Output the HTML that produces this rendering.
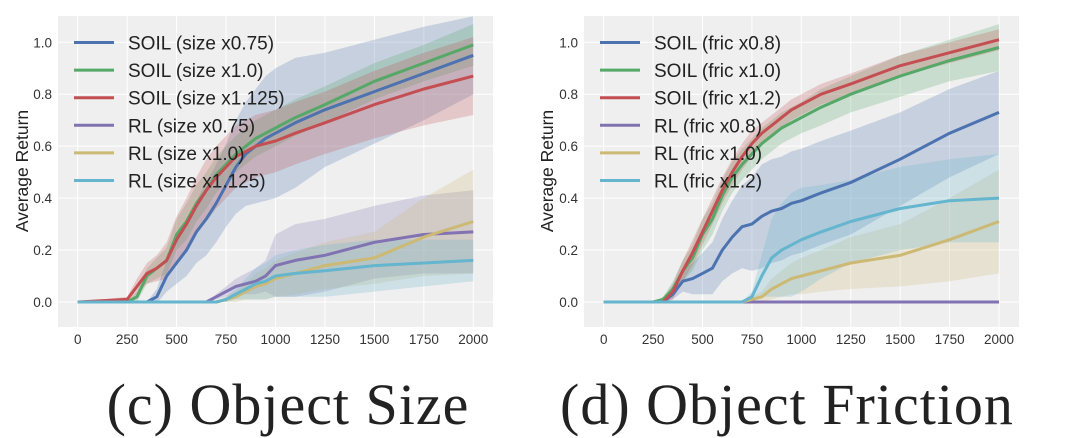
<!DOCTYPE html>
<html><head><meta charset="utf-8"><style>
body{margin:0;background:#fff;}
svg{display:block;font-family:"Liberation Sans",sans-serif;}
</style></head><body>
<svg id="fig" width="1066" height="438" viewBox="0 0 1066 438" xmlns="http://www.w3.org/2000/svg">
<text x="288" y="424" font-family="Liberation Serif,serif" font-size="58" text-anchor="middle" fill="#222" letter-spacing="1">(c) Object Size</text>
<text x="787" y="424" font-family="Liberation Serif,serif" font-size="58" text-anchor="middle" fill="#222" letter-spacing="1">(d) Object Friction</text>
</svg>
<script>
const xs=[0,250,300,350,400,450,500,550,600,650,700,750,800,850,900,950,1000,1100,1250,1500,1750,2000];
const xTicks=[0,250,500,750,1000,1250,1500,1750,2000];
const yTicks=[0.0,0.2,0.4,0.6,0.8,1.0];
const colors=["#4c72b0","#55a868","#c44e52","#8172b2","#ccb974","#64b5cd"];
const sizeLabels=["SOIL (size x0.75)","SOIL (size x1.0)","SOIL (size x1.125)","RL (size x0.75)","RL (size x1.0)","RL (size x1.125)"];
const fricLabels=["SOIL (fric x0.8)","SOIL (fric x1.0)","SOIL (fric x1.2)","RL (fric x0.8)","RL (fric x1.0)","RL (fric x1.2)"];
const sizeMeans=[
[0,0,0,0,0.02,0.1,0.15,0.2,0.27,0.32,0.38,0.45,0.52,0.57,0.6,0.63,0.65,0.69,0.74,0.81,0.88,0.95],
[0,0,0.02,0.1,0.13,0.16,0.26,0.31,0.38,0.43,0.49,0.53,0.57,0.6,0.63,0.65,0.67,0.71,0.76,0.85,0.92,0.99],
[0,0.01,0.06,0.11,0.13,0.16,0.24,0.3,0.37,0.43,0.48,0.52,0.56,0.58,0.6,0.61,0.62,0.65,0.69,0.76,0.82,0.87],
[0,0,0,0,0,0,0,0,0,0,0.02,0.04,0.06,0.07,0.08,0.1,0.14,0.16,0.18,0.23,0.26,0.27],
[0,0,0,0,0,0,0,0,0,0,0,0.01,0.02,0.04,0.06,0.07,0.09,0.11,0.14,0.17,0.25,0.31],
[0,0,0,0,0,0,0,0,0,0,0,0.01,0.03,0.05,0.07,0.08,0.1,0.11,0.12,0.14,0.15,0.16]];
const sizeSpread=[
[0,0,0,0,0.03,0.06,0.08,0.1,0.12,0.14,0.15,0.16,0.18,0.2,0.22,0.24,0.25,0.25,0.22,0.2,0.18,0.15],
[0,0,0.02,0.03,0.04,0.05,0.06,0.07,0.07,0.07,0.07,0.07,0.07,0.07,0.07,0.07,0.07,0.07,0.07,0.07,0.07,0.08],
[0,0.01,0.03,0.04,0.05,0.07,0.09,0.1,0.11,0.12,0.12,0.12,0.12,0.12,0.12,0.12,0.12,0.12,0.12,0.13,0.14,0.15],
[0,0,0,0,0,0,0,0,0,0,0.01,0.02,0.03,0.04,0.05,0.06,0.12,0.14,0.14,0.14,0.15,0.16],
[0,0,0,0,0,0,0,0,0,0,0,0.01,0.02,0.03,0.05,0.06,0.07,0.08,0.09,0.1,0.15,0.2],
[0,0,0,0,0,0,0,0,0,0,0,0.01,0.02,0.04,0.06,0.07,0.08,0.09,0.1,0.1,0.09,0.08]];
const fricMeans=[
[0,0,0,0.03,0.08,0.09,0.11,0.13,0.2,0.25,0.29,0.3,0.33,0.35,0.36,0.38,0.39,0.42,0.46,0.55,0.65,0.73],
[0,0,0.01,0.05,0.12,0.17,0.26,0.32,0.41,0.48,0.53,0.57,0.61,0.64,0.67,0.69,0.71,0.75,0.8,0.87,0.93,0.98],
[0,0,0,0.04,0.12,0.19,0.27,0.35,0.43,0.5,0.56,0.61,0.65,0.68,0.71,0.74,0.76,0.8,0.84,0.91,0.96,1.01],
[0,0,0,0,0,0,0,0,0,0,0,0,0,0,0,0,0,0,0,0,0,0],
[0,0,0,0,0,0,0,0,0,0,0,0.01,0.02,0.05,0.07,0.09,0.1,0.12,0.15,0.18,0.24,0.31],
[0,0,0,0,0,0,0,0,0,0,0,0.02,0.1,0.17,0.2,0.22,0.24,0.27,0.31,0.36,0.39,0.4]];
const fricSpread=[
[0,0,0,0.02,0.04,0.06,0.08,0.1,0.12,0.14,0.16,0.18,0.2,0.2,0.2,0.2,0.2,0.2,0.2,0.18,0.17,0.16],
[0,0,0.01,0.03,0.04,0.05,0.06,0.06,0.06,0.06,0.06,0.06,0.06,0.06,0.06,0.06,0.06,0.07,0.07,0.08,0.08,0.09],
[0,0,0.01,0.03,0.04,0.05,0.05,0.05,0.05,0.05,0.05,0.05,0.04,0.04,0.04,0.04,0.04,0.04,0.04,0.04,0.04,0.04],
[0,0,0,0,0,0,0,0,0,0,0,0,0,0,0,0,0,0,0,0,0,0],
[0,0,0,0,0,0,0,0,0,0,0,0.01,0.02,0.04,0.05,0.06,0.07,0.08,0.1,0.12,0.16,0.2],
[0,0,0,0,0,0,0,0,0,0,0,0.02,0.08,0.15,0.18,0.2,0.2,0.18,0.16,0.16,0.16,0.17]];

const NS="http://www.w3.org/2000/svg";
const svg=document.getElementById('fig');
function mk(tag,attrs,parent){const e=document.createElementNS(NS,tag);for(const k in attrs)e.setAttribute(k,attrs[k]);(parent||svg).appendChild(e);return e;}

function panel(name,px0,pw,x0px,x2000px,means,spreads,labels,ylabX){
  const top=16,bot=327,y0=302,y1=42.3;
  const X=v=>x0px+(x2000px-x0px)*v/2000;
  const Y=v=>y0+(y1-y0)*v;
  const g=mk('g',{});
  
  
  const clipId=name+'-clip';
  const cp=mk('clipPath',{id:clipId},g);mk('rect',{x:px0,y:top,width:pw,height:bot-top},cp);
  const bg=mk('rect',{x:px0,y:top,width:pw,height:bot-top,fill:'#efefef'},g);
  
  
  xTicks.forEach(t=>{
    const l=mk('line',{x1:X(t),x2:X(t),y1:top,y2:bot,stroke:'#fff','stroke-width':1},g);
    
    
    const tx=mk('text',{x:X(t),y:344,'font-size':13.5,'text-anchor':'middle',fill:'#333'},g);tx.textContent=t;
    
    
  });
  yTicks.forEach(t=>{
    const l=mk('line',{x1:px0,x2:px0+pw,y1:Y(t),y2:Y(t),stroke:'#fff','stroke-width':1},g);
    
    
    const tx=mk('text',{x:px0-6,y:Y(t)+5,'font-size':13.5,'text-anchor':'end',fill:'#333'},g);tx.textContent=t.toFixed(1);
    
    
  });
  const yl=mk('text',{x:0,y:0,'font-size':17.5,'text-anchor':'middle',fill:'#222',transform:`translate(${ylabX},${171}) rotate(-90)`},g);
  yl.textContent='Average Return';
  
  
  const pg=mk('g',{'clip-path':`url(#${clipId})`},g);
  means.forEach((m,i)=>{
    const up=xs.map((x,j)=>X(x).toFixed(1)+','+Y(m[j]+spreads[i][j]).toFixed(1));
    const lo=xs.map((x,j)=>X(x).toFixed(1)+','+Y(Math.max(m[j]-spreads[i][j],-0.005)).toFixed(1)).reverse();
    const b=mk('polygon',{points:up.concat(lo).join(' '),fill:colors[i],'fill-opacity':0.25},pg);
    
    
  });
  means.forEach((m,i)=>{
    const pts=xs.map((x,j)=>X(x).toFixed(1)+','+Y(m[j]).toFixed(1)).join(' ');
    const l=mk('polyline',{points:pts,fill:'none',stroke:colors[i],'stroke-width':3,'stroke-linejoin':'round'},pg);
    
    
  });
  labels.forEach((lab,i)=>{
    const yy=42.5+i*27.6;
    const eg=mk('g',{},g);
    
    
    mk('line',{x1:px0+16,x2:px0+56,y1:yy,y2:yy,stroke:colors[i],'stroke-width':3},eg);
    const t=mk('text',{x:px0+70,y:yy+7,'font-size':19,fill:'#222'},eg);t.textContent=lab;
  });
}
panel('object-size',58,435,77.7,473.3,sizeMeans,sizeSpread,sizeLabels,28);
panel('object-friction',584,435,603.7,999,fricMeans,fricSpread,fricLabels,553);
</script>
</body></html>
